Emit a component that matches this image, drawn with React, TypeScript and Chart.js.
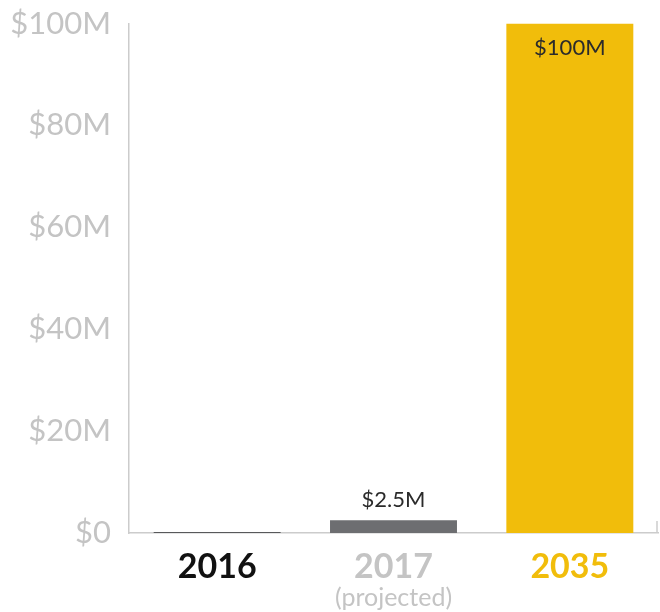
import React, { useEffect, useRef } from "react";
import { Chart, registerables } from "chart.js";

Chart.register(...registerables);

const categories = ["2016", "2017", "2035"];
const subLabels = ["", "(projected)", ""];
const values = [0.2, 2.5, 100];
const valueLabels = ["", "$2.5M", "$100M"];
const yTicks = [0, 20, 40, 60, 80, 100];

const barColors = ["#58595b", "#6d6e71", "#f1bd0b"];
const catColors = ["#111111", "#c4c4c4", "#f1bd0b"];
const FONT = "Lato, 'Noto Sans', sans-serif";
const SHIFT = 5;

const labelPlugin = {
  id: "customLabels",
  afterDatasetsDraw(chart: any) {
    const { ctx } = chart;
    const meta = chart.getDatasetMeta(0);
    const xScale = chart.scales.x;
    ctx.save();
    ctx.textAlign = "center";
    ctx.textBaseline = "middle";
    ctx.fillStyle = "#2b2b2b";
    ctx.font = `400 22px ${FONT}`;
    meta.data.forEach((bar: any, i: number) => {
      const txt = valueLabels[i];
      if (!txt) return;
      if (values[i] > 50) {
        ctx.fillText(txt, bar.x, bar.y + 24);
      } else {
        ctx.fillText(txt, bar.x, bar.y - 20);
      }
    });
    ctx.fillStyle = "#c4c4c4";
    ctx.font = `400 25px ${FONT}`;
    subLabels.forEach((s, i) => {
      if (!s) return;
      ctx.fillText(s, xScale.getPixelForValue(i), 598 + SHIFT);
    });
    const { right, bottom } = chart.chartArea;
    ctx.strokeStyle = "#cccccc";
    ctx.lineWidth = 1.5;
    ctx.beginPath();
    ctx.moveTo(right - 1, bottom - 12);
    ctx.lineTo(right - 1, bottom);
    ctx.stroke();
    ctx.restore();
  },
};

export default function App() {
  const ref = useRef<HTMLCanvasElement | null>(null);
  useEffect(() => {
    if (!ref.current) return;
    const chart = new Chart(ref.current, {
      type: "bar",
      data: {
        labels: categories,
        datasets: [
          {
            data: values,
            backgroundColor: barColors,
            barPercentage: 0.72,
            categoryPercentage: 1,
          },
        ],
      },
      options: {
        responsive: false,
        animation: false,
        layout: { padding: { top: 0, right: 2, left: 0, bottom: 0 } },
        plugins: {
          legend: { display: false },
          tooltip: { enabled: false },
        },
        scales: {
          x: {
            grid: { display: false },
            border: { display: true, color: "#cccccc", width: 1.5 },
            ticks: {
              color: catColors,
              font: { family: FONT, size: 34, weight: "bold" },
              padding: 6,
            },
            afterFit(scale: any) {
              scale.height = 79;
            },
          },
          y: {
            min: 0,
            max: 100,
            afterBuildTicks(scale: any) {
              scale.ticks = yTicks.map((v) => ({ value: v }));
            },
            grid: { display: false },
            border: { display: true, color: "#cccccc", width: 1.5 },
            ticks: {
              color: "#c4c4c4",
              font: { family: FONT, size: 31, weight: 400 },
              padding: 10,
              callback: (v: any) => (v === 0 ? "$0" : `$${v}M`),
            },
            afterFit(scale: any) {
              scale.width = 129;
            },
          },
        },
      },
      plugins: [labelPlugin],
    });
    return () => chart.destroy();
  }, []);
  return (
    <div style={{ position: "fixed", left: 0, top: -SHIFT, width: 660, height: 612 + SHIFT }}>
      <canvas ref={ref} width={660} height={612 + SHIFT} />
    </div>
  );
}
